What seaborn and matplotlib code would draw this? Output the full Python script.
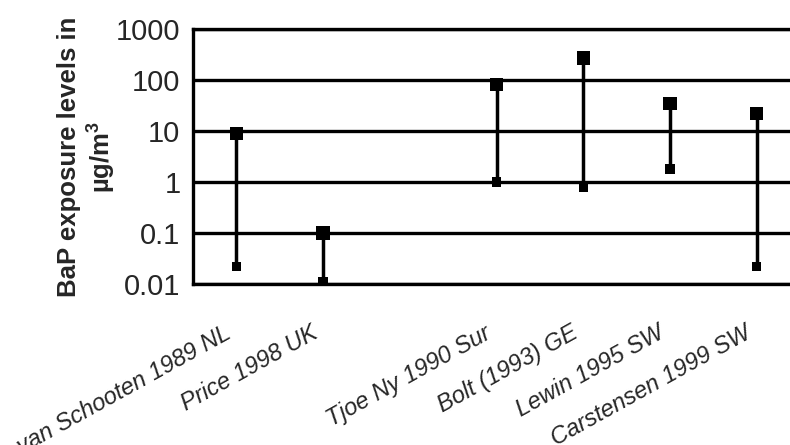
import pandas as pd
import matplotlib
matplotlib.use("Agg")
import matplotlib.pyplot as plt
import matplotlib.transforms as mtransforms
import seaborn as sns

# studies on the x axis (one empty slot as in the original sheet)
studies = ["van Schooten 1989 NL", "Price 1998 UK", "", "Tjoe Ny 1990 Sur",
           "Bolt (1993) GE", "Lewin 1995 SW", "Carstensen 1999 SW"]
low_values = [0.022, 0.011, None, 1.0, 0.8, 1.8, 0.022]
high_values = [8.8, 0.1, None, 83, 270, 35, 22]

y_ticks = [0.01, 0.1, 1, 10, 100, 1000]
y_tick_labels = ["0.01", "0.1", "1", "10", "100", "1000"]

rows = []
for pos, (name, lo, hi) in enumerate(zip(studies, low_values, high_values)):
    if lo is None:
        continue
    rows.append({"pos": pos, "study": name, "value": lo, "kind": "low"})
    rows.append({"pos": pos, "study": name, "value": hi, "kind": "high"})
df = pd.DataFrame(rows)

sns.set_style("white")
plt.rcParams["font.family"] = ["Liberation Sans", "DejaVu Sans"]
plt.rcParams["mathtext.fontset"] = "custom"
plt.rcParams["mathtext.rm"] = "Liberation Sans"
plt.rcParams["mathtext.bf"] = "Liberation Sans:bold"

fig = plt.figure(figsize=(7.9, 4.45), dpi=100)
ax = fig.add_axes([193 / 790, 161 / 445, 607 / 790, 255 / 445])

sns.lineplot(data=df, x="pos", y="value", units="study", estimator=None,
             sort=False, color="black", linewidth=2.5, ax=ax, zorder=3)
sns.scatterplot(data=df, x="pos", y="value", size="kind",
                sizes={"low": 45, "high": 90}, marker="s", color="black",
                linewidth=0, legend=False, ax=ax, zorder=4)

ax.set_yscale("log")
ax.set_ylim(0.01, 1000)
ax.set_xlim(-0.5, len(studies) - 0.5)
ax.set_yticks(y_ticks)
ax.set_yticklabels(y_tick_labels)
ax.minorticks_off()
ax.set_xticks(range(len(studies)))
ax.set_xticklabels(studies, rotation=29, ha="right", va="top",
                   rotation_mode="anchor", fontstyle="italic", fontsize=17)
ax.tick_params(axis="y", labelsize=21, length=0, pad=9)
ax.tick_params(axis="x", length=0, pad=27)

# nudge the slanted labels a little to the left, as in the original
shift = mtransforms.ScaledTranslation(-13 / 100, 0, fig.dpi_scale_trans)
for lab in ax.get_xticklabels():
    lab.set_transform(lab.get_transform() + shift)

ax.yaxis.grid(True, color="black", linewidth=2.4)
ax.xaxis.grid(False)
for side in ["left", "bottom", "top", "right"]:
    ax.spines[side].set_color("black")
    ax.spines[side].set_linewidth(2.4)

ax.set_xlabel("")
ax.set_ylabel("BaP exposure levels in\nµg/m$^\\mathbf{3}$", fontsize=18.5,
              fontweight="bold", linespacing=1.1)
ax.yaxis.set_label_coords(-0.126, 0.5)

fig.savefig("out.png", dpi=100)
